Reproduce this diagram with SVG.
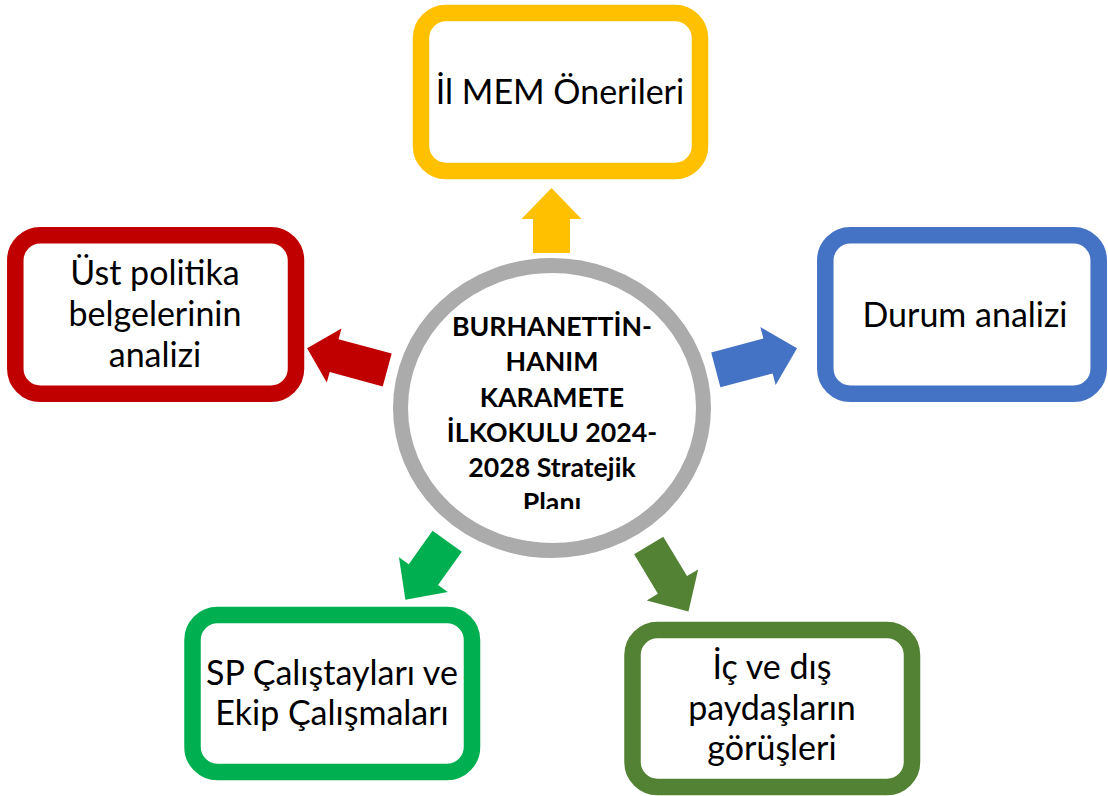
<svg xmlns="http://www.w3.org/2000/svg" width="1108" height="796" viewBox="0 0 1108 796">
<defs>
<style>
.box{fill:#FFFFFF;stroke-width:16.5}
.lbl{font-family:Lato,"Liberation Sans",sans-serif;font-size:34px;fill:#000000;text-anchor:middle}
.ctr{font-family:Lato,"Liberation Sans",sans-serif;font-size:26.7px;font-weight:bold;fill:#000000;text-anchor:middle}
</style>
<clipPath id="ctrclip"><rect x="420" y="300" width="265" height="209"/></clipPath>
</defs>
<rect x="0" y="0" width="1108" height="796" fill="#FFFFFF"/>
<g id="connectors">
<polygon fill="#FFC000" transform="translate(551.5,253) rotate(-90)" points="0,-18.5 34,-18.5 34,-30 65,0 34,30 34,18.5 0,18.5"/>
<polygon fill="#C00000" transform="translate(387.2,370) rotate(195.2)" points="0,-17 55,-17 55,-28 83,0 55,28 55,17 0,17"/>
<polygon fill="#4472C4" transform="translate(715.8,369.8) rotate(-14.8)" points="0,-18 54,-18 54,-30 84,0 54,30 54,18 0,18"/>
<polygon fill="#00B050" transform="translate(447.2,541.2) rotate(125.5)" points="0,-18 41,-18 41,-30 72,0 41,30 41,18 0,18"/>
<polygon fill="#548235" transform="translate(648.7,545.5) rotate(58.9)" points="0,-17 46,-17 46,-30 77,0 46,30 46,17 0,17"/>
</g>
<g id="center">
<ellipse cx="552" cy="408" rx="151.5" ry="142.5" fill="#FFFFFF" stroke="#ABABAB" stroke-width="15"/>
<g clip-path="url(#ctrclip)">
<text class="ctr" x="552" y="336">BURHANETTİN-</text>
<text class="ctr" x="552" y="371">HANIM</text>
<text class="ctr" x="552" y="406.5">KARAMETE</text>
<text class="ctr" x="552" y="441.5">İLKOKULU 2024-</text>
<text class="ctr" x="552" y="476.5">2028 Stratejik</text>
<text class="ctr" x="552" y="511.5">Planı</text>
</g>
</g>
<g id="node-ilmem">
<rect class="box" x="421" y="13" width="279" height="158" rx="25" stroke="#FFC000"/>
<text class="lbl" x="560" y="104">İl MEM Önerileri</text>
</g>
<g id="node-ust">
<rect class="box" x="15.3" y="235.3" width="280.7" height="158.4" rx="25" stroke="#C00000"/>
<text class="lbl" x="155" y="285">Üst politika</text>
<text class="lbl" x="155" y="326">belgelerinin</text>
<text class="lbl" x="155" y="367">analizi</text>
</g>
<g id="node-durum">
<rect class="box" x="825.3" y="235.3" width="273.4" height="158.4" rx="25" stroke="#4472C4"/>
<text class="lbl" x="965" y="327">Durum analizi</text>
</g>
<g id="node-sp">
<rect class="box" x="192.5" y="615" width="279.5" height="157" rx="25" stroke="#00B050"/>
<text class="lbl" x="332" y="685">SP Çalıştayları ve</text>
<text class="lbl" x="332" y="724.5">Ekip Çalışmaları</text>
</g>
<g id="node-paydas">
<rect class="box" x="632.5" y="630" width="279.5" height="157" rx="25" stroke="#548235"/>
<text class="lbl" x="772" y="678.5">İç ve dış</text>
<text class="lbl" x="772" y="720">paydaşların</text>
<text class="lbl" x="772" y="760">görüşleri</text>
</g>
</svg>
